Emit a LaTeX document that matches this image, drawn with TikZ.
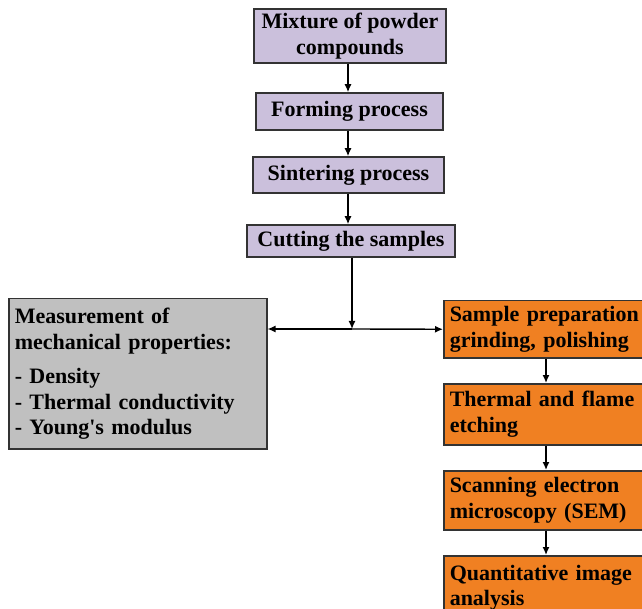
\documentclass[tikz,border=0pt]{standalone}
\usepackage{fontspec}
\setmainfont{Liberation Serif}
\usetikzlibrary{arrows.meta}
\definecolor{lilac}{HTML}{CBC0DC}
\definecolor{carrot}{HTML}{F08022}
\definecolor{stone}{HTML}{C0C0C0}
\tikzset{
  box/.style={draw=black!80, line width=1.5pt, inner sep=4pt,
    font=\fontsize{22}{25.5}\selectfont\bfseries},
  purplebox/.style={box, fill=lilac, align=center},
  orangebox/.style={box, fill=carrot, anchor=north west, minimum width=220pt,
    text width=208pt, align=left},
  greybox/.style={box, fill=stone, anchor=north west, minimum width=258pt,
    minimum height=150pt, text width=246pt, align=left, inner sep=6pt},
  arr/.style={line width=1.4pt, -{Latex[length=8pt,width=7pt]}}
}
\begin{document}
\begin{tikzpicture}[x=1pt,y=-1pt]
  \useasboundingbox (0,0) rectangle (642,609);
  \clip (0,0) rectangle (642,609);
  \node[purplebox, minimum width=192pt, minimum height=54pt] (mix) at (350,36) {Mixture of powder\\compounds};
  \node[purplebox, minimum width=187pt, minimum height=37pt] (form) at (349.5,111.5) {Forming process};
  \node[purplebox, minimum width=191pt, minimum height=36pt] (sint) at (348.5,175) {Sintering process};
  \node[purplebox, minimum width=208pt, minimum height=32pt] (cut) at (351,241) {Cutting the samples};
  \node[greybox] (meas) at (8,298) {Measurement of\\mechanical properties:\\[9pt]- Density\\- Thermal conductivity\\- Young\textquotesingle s modulus};
  \node[orangebox, minimum height=57pt] (prep) at (443,300) {Sample preparation\\grinding, polishing};
  \node[orangebox, minimum height=61pt] (etch) at (443,383) {Thermal and flame\\etching};
  \node[orangebox, minimum height=59pt] (sem) at (443,470) {Scanning electron\\microscopy (SEM)};
  \node[orangebox, minimum height=64pt] (quant) at (443,555) {Quantitative image\\analysis};
  \coordinate (split) at (352,329);
  \coordinate (ocol) at (546,0);
  \draw[arr] (mix.south -| 348,0) -- (form.north -| 348,0);
  \draw[arr] (form.south -| 348,0) -- (sint.north -| 348,0);
  \draw[arr] (sint.south -| 348,0) -- (cut.north -| 348,0);
  \draw[arr] (cut.south -| split) -- (split);
  \draw[arr] (split) -- (split -| meas.east);
  \draw[arr] (split) -- (prep.west);
  \draw[arr] (prep.south -| ocol) -- (etch.north -| ocol);
  \draw[arr] (etch.south -| ocol) -- (sem.north -| ocol);
  \draw[arr] (sem.south -| ocol) -- (quant.north -| ocol);
\end{tikzpicture}
\end{document}
